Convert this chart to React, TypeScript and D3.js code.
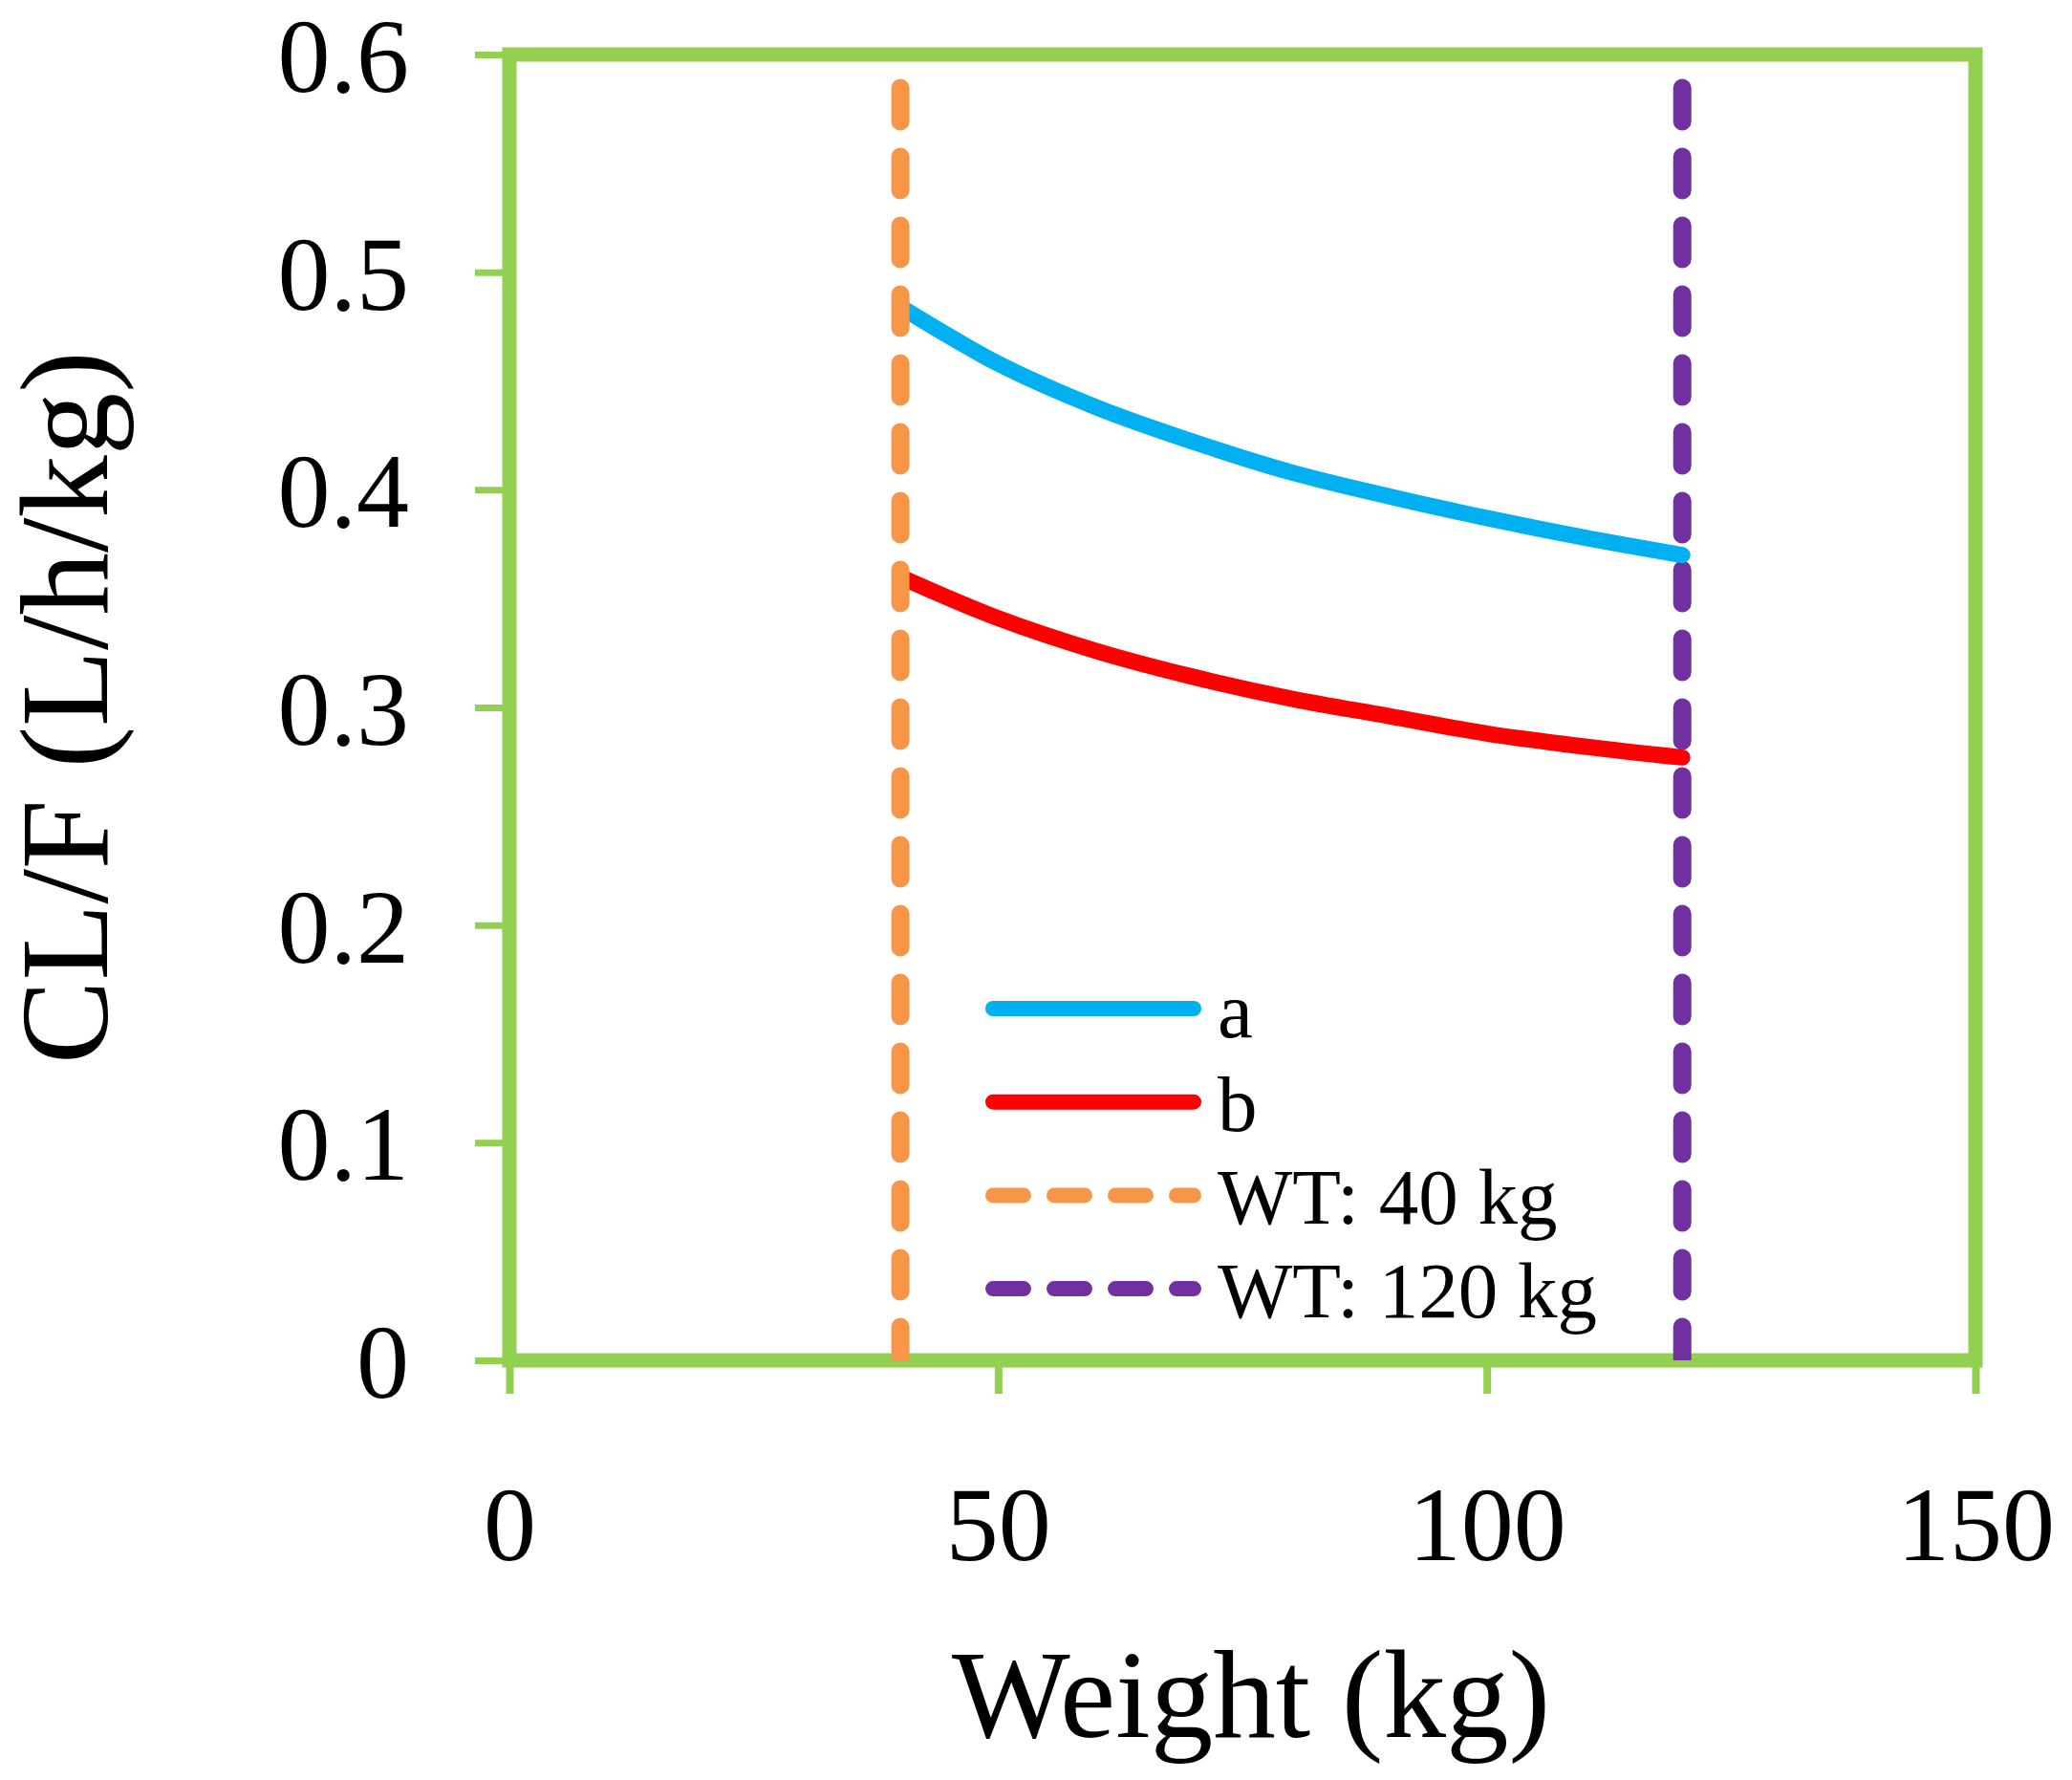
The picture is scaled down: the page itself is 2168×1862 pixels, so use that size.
import React, { useEffect, useRef } from 'react';
import * as d3 from 'd3';

// weights (kg) at which the two clearance curves were read
const weights = [40, 50, 60, 70, 80, 90, 100, 110, 120];
// CL/F (L/h/kg)
const seriesA = [0.484, 0.458, 0.438, 0.422, 0.408, 0.397, 0.387, 0.378, 0.37];
const seriesB = [0.36, 0.341, 0.326, 0.314, 0.304, 0.296, 0.288, 0.282, 0.277];
// vertical reference weights
const refWeights = [40, 120];
const refLabels = ['WT: 40 kg', 'WT: 120 kg'];
const xTicks = [0, 50, 100, 150];
const yTicks = [0, 0.1, 0.2, 0.3, 0.4, 0.5, 0.6];

const GREEN = '#92D050';
const BLUE = '#00B0F0';
const RED = '#FF0000';
const ORANGE = '#F79646';
const PURPLE = '#7030A0';
const FONT = '"Liberation Serif", "Times New Roman", serif';

export default function App() {
  const svgRef = useRef<SVGSVGElement>(null);
  const width = 2168;
  const height = 1862;

  useEffect(() => {
    if (!svgRef.current) return;
    d3.select(svgRef.current).selectAll('*').remove();

    const margin = { top: 57, right: 101, bottom: 439, left: 533 };
    const w = width - margin.left - margin.right;
    const h = height - margin.top - margin.bottom;

    const svg = d3
      .select(svgRef.current)
      .attr('width', width)
      .attr('height', height)
      .append('g')
      .attr('transform', `translate(${margin.left}, ${margin.top})`);

    const x = d3.scaleLinear().domain([0, 150]).range([0, w]);
    const y = d3.scaleLinear().domain([0, 0.6]).range([h, 0]);

    // Y axis
    const yAxis = svg
      .append('g')
      .call(
        d3
          .axisLeft(y)
          .tickValues(yTicks)
          .tickSize(36)
          .tickPadding(69)
          .tickFormat((d) => d3.format('~g')(d as number))
      );
    yAxis.select('.domain').remove();
    yAxis.selectAll('.tick line').attr('stroke', GREEN).attr('stroke-width', 7);
    yAxis
      .selectAll('text')
      .attr('fill', '#000')
      .attr('font-size', 110)
      .attr('font-family', FONT)
      .attr('dy', '0.35em');

    // X axis
    const xAxis = svg
      .append('g')
      .attr('transform', `translate(0, ${h})`)
      .call(d3.axisBottom(x).tickValues(xTicks).tickSize(35).tickFormat((d) => String(d)));
    xAxis.select('.domain').remove();
    xAxis.selectAll('.tick line').attr('stroke', GREEN).attr('stroke-width', 8);
    xAxis
      .selectAll('text')
      .attr('fill', '#000')
      .attr('font-size', 110)
      .attr('font-family', FONT)
      .attr('y', 209)
      .attr('dy', 0);

    // plot border
    svg
      .append('rect')
      .attr('x', 0)
      .attr('y', 0)
      .attr('width', w)
      .attr('height', h)
      .attr('fill', 'none')
      .attr('stroke', GREEN)
      .attr('stroke-width', 15);

    svg
      .append('clipPath')
      .attr('id', 'plot-clip')
      .append('rect')
      .attr('width', w)
      .attr('height', h);

    const plot = svg.append('g').attr('clip-path', 'url(#plot-clip)');

    const line = d3
      .line<number>()
      .x((_, i) => x(weights[i]))
      .y((d) => y(d))
      .curve(d3.curveMonotoneX);

    const vline = (wt: number, color: string) =>
      plot
        .append('path')
        .attr('d', `M${x(wt)},${y(0)}L${x(wt)},${y(0.6)}`)
        .attr('fill', 'none')
        .attr('stroke', color)
        .attr('stroke-width', 19)
        .attr('stroke-linecap', 'round')
        .attr('stroke-dasharray', '35 37');

    vline(refWeights[1], PURPLE);

    [
      { data: seriesA, color: BLUE },
      { data: seriesB, color: RED },
    ].forEach((s) => {
      plot
        .append('path')
        .datum(s.data)
        .attr('fill', 'none')
        .attr('stroke', s.color)
        .attr('stroke-width', 17)
        .attr('stroke-linecap', 'round')
        .attr('d', line);
    });

    vline(refWeights[0], ORANGE);

    // Legend
    const legendItems = [
      { name: 'a', color: BLUE, dash: null },
      { name: 'b', color: RED, dash: null },
      { name: refLabels[0], color: ORANGE, dash: '32 32' },
      { name: refLabels[1], color: PURPLE, dash: '32 32' },
    ];
    const legend = svg.append('g').attr('transform', 'translate(506, 998)');
    legendItems.forEach((item, i) => {
      const row = legend.append('g').attr('transform', `translate(0, ${i * 97.7})`);
      const l = row
        .append('line')
        .attr('x1', 0)
        .attr('x2', 210)
        .attr('y1', 0)
        .attr('y2', 0)
        .attr('stroke', item.color)
        .attr('stroke-width', 16)
        .attr('stroke-linecap', 'round');
      if (item.dash) l.attr('stroke-dasharray', item.dash);
      row
        .append('text')
        .attr('x', 235)
        .attr('y', 30)
        .attr('fill', '#000')
        .attr('font-size', 83)
        .attr('font-family', FONT)
        .text(item.name);
    });

    // axis titles
    svg
      .append('text')
      .attr('x', 1309 - margin.left)
      .attr('y', 1817 - margin.top)
      .attr('text-anchor', 'middle')
      .attr('fill', '#000')
      .attr('font-size', 131)
      .attr('font-family', FONT)
      .text('Weight (kg)');

    svg
      .append('text')
      .attr('transform', `translate(${112 - margin.left}, ${h / 2}) rotate(-90)`)
      .attr('text-anchor', 'middle')
      .attr('fill', '#000')
      .attr('font-size', 131)
      .attr('font-family', FONT)
      .text('CL/F (L/h/kg)');
  }, []);

  return (
    <div style={{ position: 'absolute', left: 0, top: 0, background: '#fff' }}>
      <svg ref={svgRef}></svg>
    </div>
  );
}
